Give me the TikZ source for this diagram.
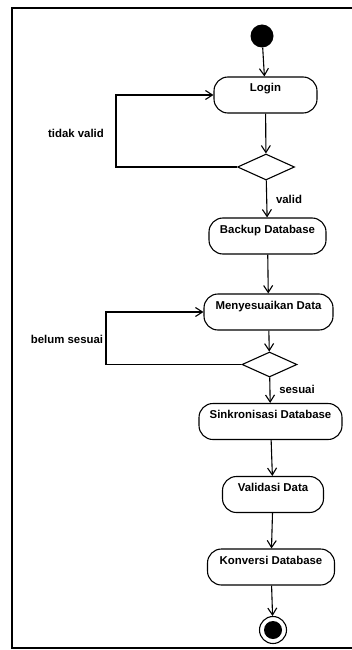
\documentclass[tikz,border=0pt]{standalone}
\usepackage{fontspec}
\setmainfont{Liberation Sans}
\usetikzlibrary{arrows.meta,shapes.geometric}
\begin{document}
\begin{tikzpicture}[x=1pt,y=-1pt,
 act/.style={draw,line width=1.1pt,rounded corners=14pt,inner xsep=0pt,inner ysep=0pt,
   text height=15pt,text depth=21pt,font=\bfseries\fontsize{11.4}{13}\selectfont},
 dec/.style={draw,diamond,line width=1.1pt,inner sep=0pt,minimum width=57pt,minimum height=26pt},
 flow/.style={line width=1.1pt,-{Straight Barb[length=7pt,width=9pt]}},
 lbl/.style={font=\bfseries\fontsize{11.4}{13}\selectfont,inner sep=0pt},
 frame/.style={line width=1.4pt}]
\useasboundingbox (0,0) rectangle (352,650);
% frame
\draw[frame] (352,8) -- (12,8) -- (12,648) -- (352,648);
% nodes
\node[circle,fill,minimum size=23pt,inner sep=0pt] (start) at (262,36) {};
\node[act,minimum width=103pt] (login) at (265.5,95) {Login};
\node[dec] (d1) at (266,167) {};
\node[act,minimum width=117pt] (backup) at (267.5,236) {Backup Database};
\node[act,minimum width=129pt] (meny) at (268.5,312) {Menyesuaikan Data};
\node[dec,minimum width=55pt,minimum height=25pt] (d2) at (269.5,364.5) {};
\node[act,minimum width=143pt] (sink) at (270.5,421.5) {Sinkronisasi Database};
\node[act,minimum width=101pt] (valid) at (273,494.5) {Validasi Data};
\node[act,minimum width=127pt] (konv) at (271,567) {Konversi Database};
\node[circle,draw,line width=1.1pt,minimum size=27pt,inner sep=0pt] (end) at (273,630) {};
\node[circle,fill,minimum size=18pt,inner sep=0pt] (endin) at (end) {};
% labels
\node[lbl] (ltv) at (76,133) {tidak valid};
\node[lbl] (lv) at (289,199) {valid};
\node[lbl] (lbs) at (67,339) {belum sesuai};
\node[lbl] (ls) at (297,389) {sesuai};
% loop corners
\coordinate (c1) at (116,167);
\coordinate (c2) at (106,364.5);
% connectors
\draw[flow] (start) -- (login);
\draw[flow] (login) -- (d1);
\draw[flow] (d1) -- (backup);
\draw[flow] (d1.west) -- (c1) |- (login.west);
\draw[flow] (backup) -- (meny);
\draw[flow] (meny) -- (d2);
\draw[flow] (d2) -- (sink);
\draw[flow] (d2.west) -- (c2) |- (meny.west);
\draw[flow] (sink) -- (valid);
\draw[flow] (valid) -- (konv);
\draw[flow] (konv) -- (end);
\end{tikzpicture}
\end{document}
